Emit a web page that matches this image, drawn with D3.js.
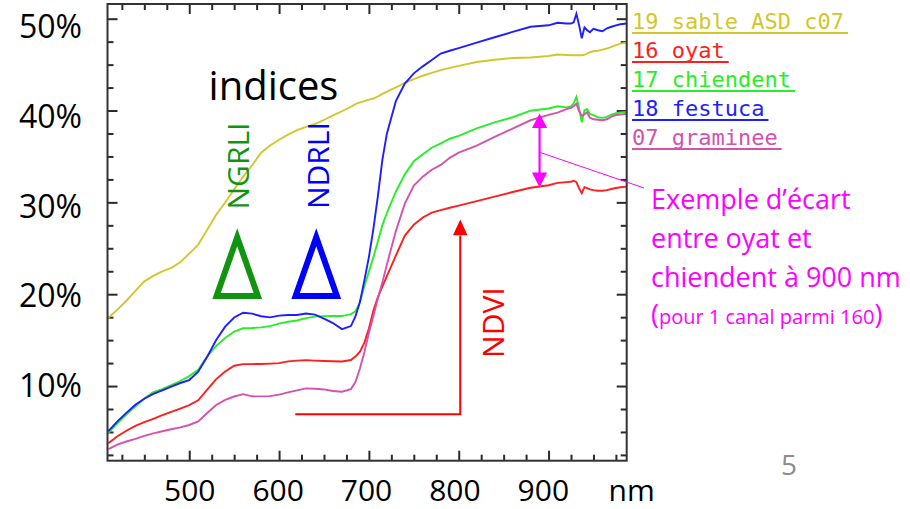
<!DOCTYPE html>
<html><head><meta charset="utf-8">
<script src="https://cdn.jsdelivr.net/npm/d3@7"></script>
<style>
html,body{margin:0;padding:0;background:#fff;}
svg{display:block;}
</style></head><body>
<svg id="chart" width="910" height="509"></svg>
<script>
// ---- data (wavelength in nm, reflectance in %) ----
const wavelengths = [410,420,430,440,450,460,470,480,490,500,
  510,520,530,540,550,560,570,580,590,600,
  610,620,630,640,650,660,670,680,
  685,690,695,700,705,710,715,720,
  730,740,750,760,770,780,790,800,
  820,840,860,880,900,910,920,
  925,928,931,934,937,940,943,946,
  950,955,960,965,970,975,980,987];

const sable = [17.43,18.32,19.29,20.37,21.4,21.99,22.48,22.87,23.48,24.42,
  25.4,27.03,28.66,29.98,31.43,32.81,34.04,35.41,36.2,36.82,
  37.38,37.86,38.23,38.53,38.97,39.47,39.92,40.41,
  40.69,40.88,41.03,41.19,41.31,41.53,41.81,42.05,
  42.51,43.0,43.43,43.79,44.1,44.4,44.64,44.86,
  45.28,45.53,45.72,45.78,45.94,46.1,46.05,
  46.02,46.02,46.02,46.02,46.02,46.07,46.21,46.35,
  46.45,46.51,46.64,46.75,46.93,47.12,47.29,47.4];

const oyat = [3.76,4.53,5.13,5.66,6.06,6.43,6.82,7.19,7.55,7.93,
  8.45,9.6,10.75,11.58,12.21,12.39,12.39,12.4,12.44,12.5,
  12.69,12.77,12.82,12.77,12.73,12.7,12.67,12.83,
  13.21,13.75,14.73,16.26,18.22,19.68,20.83,21.97,
  24.2,26.38,27.57,28.35,28.88,29.16,29.41,29.65,
  30.14,30.63,31.13,31.59,31.87,32.12,32.2,
  32.25,32.36,32.2,31.54,31.0,31.65,31.54,31.41,
  31.33,31.27,31.26,31.33,31.46,31.57,31.65,31.71];

const chiendent = [4.89,5.95,6.89,7.78,8.64,9.33,9.67,10.09,10.55,11.08,
  11.77,13.23,14.37,15.22,15.93,16.29,16.32,16.39,16.53,16.8,
  17.0,17.14,17.4,17.56,17.61,17.62,17.62,17.83,
  18.13,19.11,20.88,22.46,24.04,25.73,27.52,28.84,
  31.16,33.05,34.48,35.24,35.95,36.42,36.93,37.24,
  38.05,38.71,39.27,39.98,40.22,40.47,40.34,
  40.45,40.79,41.5,40.25,38.71,40.03,40.14,39.62,
  39.49,39.27,39.2,39.3,39.55,39.71,39.79,39.85];

const festuca = [5.10,6.15,7.08,7.97,8.62,9.15,9.54,9.93,10.33,10.65,
  11.56,13.19,15.01,16.47,17.46,17.98,17.89,17.6,17.48,17.67,
  17.73,17.73,17.89,17.78,17.35,16.86,16.2,16.53,
  17.57,19.14,21.53,24.04,27.12,30.69,34.62,37.48,
  41.02,42.94,44.05,44.81,45.51,46.21,46.51,46.8,
  47.39,47.98,48.56,49.12,49.28,49.55,49.47,
  49.47,49.61,50.53,49.28,47.87,49.06,48.74,48.52,
  48.9,48.74,48.63,48.96,49.12,49.28,49.39,49.47];

const graminee = [3.14,3.63,3.96,4.25,4.57,4.85,5.08,5.3,5.5,5.76,
  6.14,7.06,7.93,8.5,8.86,9.12,8.88,8.87,8.9,9.06,
  9.31,9.53,9.74,9.7,9.63,9.46,9.38,9.67,
  10.44,11.9,13.7,15.77,17.62,19.52,21.26,23.22,
  26.87,29.86,31.82,32.8,33.55,34.08,34.85,35.41,
  36.18,37.12,38.04,38.94,39.52,39.77,40.16,
  40.3,40.47,40.74,39.92,39.43,39.6,39.81,39.22,
  39.05,39.0,38.94,39.05,39.33,39.51,39.56,39.65];

const seriesNames = ["19 sable ASD c07","16 oyat","17 chiendent","18 festuca","07 graminee"];
const seriesValues = [sable, oyat, chiendent, festuca, graminee];
const seriesColors = ["#d2c72a","#ff1e1e","#28ee28","#1e1eff","#d452ae"];

const xTickValues = [500,600,700,800,900];
const xTickLabels = ["500","600","700","800","900"];
const xUnitLabel = "nm";
const yTickValues = [10,20,30,40,50];
const yTickLabels = ["10%","20%","30%","40%","50%"];

const noteLines = ["Exemple d\u2019\u00e9cart","entre oyat et","chiendent \u00e0 900 nm"];
const noteSmall = "pour 1 canal parmi 160";

// ---- layout ----
const svg = d3.select("#chart");
const L = 107.5, R = 626.7, T = 4, B = 460.7;
const x = d3.scaleLinear().domain([409, 987]).range([L, R]);
const y = d3.scaleLinear().domain([1.87, 51.6]).range([B, T]);
// overlay label placement of the slide
const xLab = d3.scaleLinear().domain([500, 1000]).range([189.8, 631.7]);
const yLab = d3.scaleLinear().domain([10, 50]).range([396.7, 38.3]);

const sans = "'Open Sans','Noto Sans',sans-serif";

// ---- ticks (inward, on four sides) ----
const xMinor = d3.range(425, 987, 25).filter(v => v % 100 !== 0);
const yMinor = d3.range(2.5, 51, 2.5).filter(v => v % 10 !== 0);
function ticks(axisFn, scale, vals, len, tr) {
  const g = svg.append("g").attr("transform", tr)
    .call(axisFn(scale).tickValues(vals).tickSize(-len).tickFormat(""));
  g.select(".domain").remove();
  g.selectAll("line").attr("stroke", "#2a2a2a").attr("stroke-width", 2);
}
[[xMinor,6],[xTickValues,10]].forEach(([v,l]) => {
  ticks(d3.axisBottom, x, v, l, `translate(0,${B})`);
  ticks(d3.axisTop, x, v, l, `translate(0,${T})`);
});
[[yMinor,6],[yTickValues,10]].forEach(([v,l]) => {
  ticks(d3.axisLeft, y, v, l, `translate(${L},0)`);
  ticks(d3.axisRight, y, v, l, `translate(${R},0)`);
});

// ---- curves ----
const line = d3.line().x((d,i) => x(wavelengths[i])).y(d => y(d));
seriesValues.forEach((vals, k) => {
  svg.append("path").attr("d", line(vals))
    .attr("fill", "none").attr("stroke", seriesColors[k])
    .attr("stroke-width", 1.9).attr("stroke-linejoin", "miter");
});

// ---- frame ----
svg.append("rect").attr("x", L).attr("y", T).attr("width", R - L).attr("height", B - T)
  .attr("fill", "none").attr("stroke", "#333").attr("stroke-width", 2);

// ---- axis labels ----
svg.append("g").selectAll("text").data(yTickValues).join("text")
  .attr("x", 82).attr("y", d => yLab(d)).attr("text-anchor", "end")
  .attr("font-family", sans).attr("font-size", 32).attr("fill", "#000")
  .text((d,i) => yTickLabels[i]);
svg.append("g").selectAll("text").data(xTickValues).join("text")
  .attr("x", d => xLab(d)).attr("y", 501).attr("text-anchor", "middle")
  .attr("font-family", sans).attr("font-size", 30).attr("fill", "#000")
  .text((d,i) => xTickLabels[i]);
svg.append("text").attr("x", xLab(1000)).attr("y", 501).attr("text-anchor", "middle")
  .attr("font-family", sans).attr("font-size", 30).attr("fill", "#000").text(xUnitLabel);

// ---- legend ----
const lg = svg.append("g");
seriesNames.forEach((name, k) => {
  const by = 28.5 + k * 29;
  const t = lg.append("text").attr("x", 632).attr("y", by)
    .attr("font-family", "'DejaVu Sans Mono',monospace").attr("font-size", 22)
    .attr("fill", seriesColors[k]).text(name);
  const w = t.node().getComputedTextLength();
  lg.append("line").attr("x1", 632).attr("x2", 632 + w + 4)
    .attr("y1", by + 4.5).attr("y2", by + 4.5)
    .attr("stroke", seriesColors[k]).attr("stroke-width", 2);
});

// ---- annotations ----
const green = "#119511", blue = "#0000ff", red = "#ff0000", mag = "#ff00ff";
svg.append("text").attr("x", x(521.5)).attr("y", y(41.2))
  .attr("font-family", sans).attr("font-size", 40).attr("fill", "#000").text("indices");

function vtext(txt, nm, pct, col) {
  svg.append("text").attr("transform", `translate(${x(nm)},${y(pct)}) rotate(-90)`)
    .attr("text-anchor", "middle").attr("font-family", sans).attr("font-size", 30)
    .attr("fill", col).text(txt);
}
vtext("NGRLI", 566, 33.96, green);
vtext("NDRLI", 655.9, 34.0, blue);
vtext("NDVI", 850.7, 16.91, red);

function tri(cnm, col) {
  const pts = [[cnm, 26.2], [cnm - 23, 19.8], [cnm + 23, 19.8]].map(p => [x(p[0]), y(p[1])]);
  svg.append("path").attr("d", d3.line()(pts) + "Z").attr("fill", "none")
    .attr("stroke", col).attr("stroke-width", 6).attr("stroke-linejoin", "miter");
}
tri(553.4, green);
tri(641.4, blue);

// NDVI arrow
svg.append("path")
  .attr("d", `M${x(618)},${y(6.92)}H${x(801.7)}V${y(26.4)}`)
  .attr("fill", "none").attr("stroke", red).attr("stroke-width", 2);
svg.append("path")
  .attr("d", d3.line()([[x(801.7), y(28.14)], [x(793.6), y(26.43)], [x(809.8), y(26.43)]]) + "Z")
  .attr("fill", red);

// magenta double arrow at ~890 nm
const ax = 890;
svg.append("line").attr("x1", x(ax)).attr("x2", x(ax)).attr("y1", y(38.2)).attr("y2", y(33.2))
  .attr("stroke", mag).attr("stroke-width", 2.2);
svg.append("path").attr("d", d3.line()([[x(ax), y(39.67)], [x(ax - 8.4), y(38.1)], [x(ax + 8.4), y(38.1)]]) + "Z").attr("fill", mag);
svg.append("path").attr("d", d3.line()([[x(ax), y(31.62)], [x(ax - 8.4), y(33.25)], [x(ax + 8.4), y(33.25)]]) + "Z").attr("fill", mag);
svg.append("line").attr("x1", x(ax)).attr("y1", y(35.46)).attr("x2", 644).attr("y2", 188)
  .attr("stroke", mag).attr("stroke-width", 1);

const nt = svg.append("g").attr("font-family", sans).attr("fill", mag);
noteLines.forEach((s, i) => {
  nt.append("text").attr("x", 651).attr("y", 209.3 + i * 38.8).attr("font-size", 27).text(s);
});
const last = nt.append("text").attr("x", 651).attr("y", 324).attr("font-size", 27);
last.append("tspan").text("(");
last.append("tspan").attr("font-size", 20).text(noteSmall);
last.append("tspan").text(")");

// page number
svg.append("text").attr("x", 781).attr("y", 475).attr("font-family", sans)
  .attr("font-size", 28).attr("fill", "#8c8c8c").text("5");
</script>
</body></html>
